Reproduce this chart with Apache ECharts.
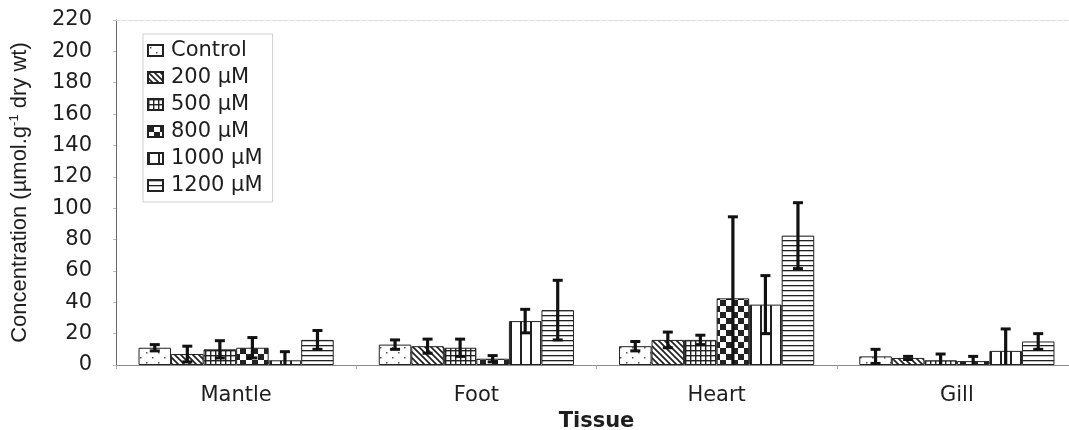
<!DOCTYPE html>
<html>
<head>
<meta charset="utf-8">
<script src="https://cdn.jsdelivr.net/npm/echarts@6/dist/echarts.min.js"></script>
<style>
  html, body { margin: 0; padding: 0; background: #fff; }
  #chart { width: 1069px; height: 430px; }
</style>
</head>
<body>
<div id="chart"></div>
<script>
// Tissue groups and treatment concentrations
const categories = ['Mantle', 'Foot', 'Heart', 'Gill'];
const seriesNames = ['Control', '200 µM', '500 µM', '800 µM', '1000 µM', '1200 µM'];

// Mean concentration per tissue (Mantle, Foot, Heart, Gill)
const controlMean = [11, 13, 12, 5.5];
const m200Mean    = [7, 12, 16, 4.5];
const m500Mean    = [10, 11, 16, 3];
const m800Mean    = [11, 4, 42.5, 2.5];
const m1000Mean   = [3, 28, 38.5, 9];
const m1200Mean   = [16, 35, 82.5, 15];

// Error (± one deviation) per tissue
const controlErr = [2, 3, 3, 4.5];
const m200Err    = [5, 4.5, 5, 1];
const m500Err    = [5.5, 5.5, 3, 4];
const m800Err    = [6.5, 2, 52, 3];
const m1000Err   = [5.5, 7.5, 18.5, 14];
const m1200Err   = [6, 19, 21, 5];

const yTicks = [0, 20, 40, 60, 80, 100, 120, 140, 160, 180, 200, 220];

const means = [controlMean, m200Mean, m500Mean, m800Mean, m1000Mean, m1200Mean];
const errs = [controlErr, m200Err, m500Err, m800Err, m1000Err, m1200Err];

const FONT = 'DejaVu Sans';
const TEXT = '#1e1e1e';
const CAT_GAP = 0.1875;

// Monochrome fill patterns, one per treatment
function makePattern(kind) {
  const c = document.createElement('canvas');
  const ctx = c.getContext('2d');
  let w = 6, h = 6;
  if (kind === 'dots') { w = 12; h = 10; }
  if (kind === 'diag') { w = 6; h = 6; }
  if (kind === 'grid') { w = 5; h = 5; }
  if (kind === 'checker') { w = 12; h = 12; }
  if (kind === 'vlines') { w = 10; h = 4; }
  if (kind === 'hlines') { w = 4; h = 5; }
  c.width = w; c.height = h;
  ctx.fillStyle = '#fff';
  ctx.fillRect(0, 0, w, h);
  ctx.fillStyle = '#222';
  ctx.strokeStyle = '#222';
  if (kind === 'dots') {
    ctx.fillStyle = '#555';
    ctx.fillRect(2, 2, 1.5, 1.5);
    ctx.fillRect(8, 7, 1.5, 1.5);
  } else if (kind === 'diag') {
    ctx.lineWidth = 1.7;
    ctx.beginPath();
    ctx.moveTo(-1, -1); ctx.lineTo(w + 1, h + 1);
    ctx.moveTo(-1 - w, -1); ctx.lineTo(1, h + 1);
    ctx.moveTo(w - 1, -1); ctx.lineTo(2 * w + 1, h + 1);
    ctx.stroke();
  } else if (kind === 'grid') {
    ctx.fillRect(0, 0, 1.4, h);
    ctx.fillRect(0, 0, w, 1.4);
  } else if (kind === 'checker') {
    ctx.fillRect(0, 0, 6, 6);
    ctx.fillRect(6, 6, 6, 6);
  } else if (kind === 'vlines') {
    ctx.fillRect(0, 0, 2, h);
  } else if (kind === 'hlines') {
    ctx.fillRect(0, 0, w, 1.3);
  }
  return { image: c, repeat: 'repeat' };
}

const patternKinds = ['dots', 'diag', 'grid', 'checker', 'vlines', 'hlines'];

const barSeries = seriesNames.map((name, i) => ({
  name: name,
  type: 'bar',
  data: means[i],
  barGap: '0%',
  barCategoryGap: (CAT_GAP * 100) + '%',
  itemStyle: {
    color: makePattern(patternKinds[i]),
    borderColor: '#222',
    borderWidth: 1
  },
  emphasis: { disabled: true },
  animation: false
}));

// Error bars: [category index, series index, mean, error]
const errData = [];
means.forEach((arr, si) => {
  arr.forEach((v, ci) => errData.push([ci, si, v, errs[si][ci]]));
});

const errorSeries = {
  type: 'custom',
  name: 'error',
  z: 5,
  silent: true,
  animation: false,
  data: errData,
  renderItem: function (params, api) {
    const ci = api.value(0), si = api.value(1), v = api.value(2), e = api.value(3);
    const band = api.size([1, 0])[0];
    const groupW = band * (1 - CAT_GAP);
    const bw = groupW / seriesNames.length;
    const center = api.coord([ci, 0]);
    const x = center[0] - groupW / 2 + (si + 0.5) * bw;
    const top = api.coord([ci, v + e])[1];
    const lowVal = Math.max(0, v - e);
    const bot = api.coord([ci, lowVal])[1];
    const capHalf = 5;
    const style = { stroke: '#111', lineWidth: 3.2 };
    const children = [
      { type: 'line', shape: { x1: x, y1: top, x2: x, y2: bot }, style: style },
      { type: 'line', shape: { x1: x - capHalf, y1: top, x2: x + capHalf, y2: top }, style: { stroke: '#111', lineWidth: 3 } }
    ];
    if (v - e > 0) {
      children.push({ type: 'line', shape: { x1: x - capHalf, y1: bot, x2: x + capHalf, y2: bot }, style: { stroke: '#111', lineWidth: 3 } });
    }
    return { type: 'group', children: children };
  }
};

const chart = echarts.init(document.getElementById('chart'), null, { renderer: 'canvas' });

chart.setOption({
  backgroundColor: '#fff',
  animation: false,
  textStyle: { fontFamily: FONT, color: TEXT },
  grid: { left: 116, right: -8, top: 20, bottom: 65, containLabel: false, outerBoundsMode: 'none' },
  legend: {
    data: seriesNames,
    orient: 'vertical',
    left: 143,
    top: 34,
    icon: 'rect',
    itemWidth: 15,
    itemHeight: 11,
    itemGap: 6,
    padding: [6, 10, 6, 4],
    borderColor: '#cfcfcf',
    borderWidth: 1,
    selectedMode: false,
    textStyle: { fontFamily: FONT, fontSize: 21, lineHeight: 21, color: TEXT, padding: [0, 0, 0, 3] }
  },
  xAxis: [
    {
      type: 'category',
      data: categories,
      name: 'Tissue',
      nameLocation: 'middle',
      nameGap: 42,
      nameTextStyle: { fontFamily: FONT, fontSize: 21, fontWeight: 'bold', color: TEXT },
      axisLine: { lineStyle: { color: '#8a8a8a', width: 1 } },
      axisTick: { show: true, length: 4, lineStyle: { color: '#aaa' } },
      axisLabel: { fontFamily: FONT, fontSize: 21, color: TEXT, margin: 20 },
      splitLine: { show: false }
    },
    {
      type: 'category',
      data: categories,
      position: 'top',
      axisLine: { lineStyle: { color: '#dadada', width: 1, type: 'dashed' } },
      axisTick: { show: false },
      axisLabel: { show: false }
    }
  ],
  yAxis: {
    type: 'value',
    min: yTicks[0],
    max: yTicks[yTicks.length - 1],
    interval: 20,
    name: 'Concentration (µmol.g{sup|-1} dry wt)',
    nameLocation: 'middle',
    nameGap: 84,
    nameTextStyle: {
      fontFamily: 'Liberation Sans',
      fontSize: 22,
      lineHeight: 24,
      color: TEXT,
      rich: {
        sup: { fontFamily: 'Liberation Sans', fontSize: 13, lineHeight: 13, verticalAlign: 'top', color: TEXT }
      }
    },
    axisLine: { show: true, lineStyle: { color: '#6a6a6a', width: 1 } },
    axisTick: { show: true, length: 3, lineStyle: { color: '#bbb' } },
    axisLabel: { fontFamily: FONT, fontSize: 21, color: TEXT, margin: 24 },
    splitLine: { show: false }
  },
  series: barSeries.concat([errorSeries])
});
</script>
</body>
</html>
